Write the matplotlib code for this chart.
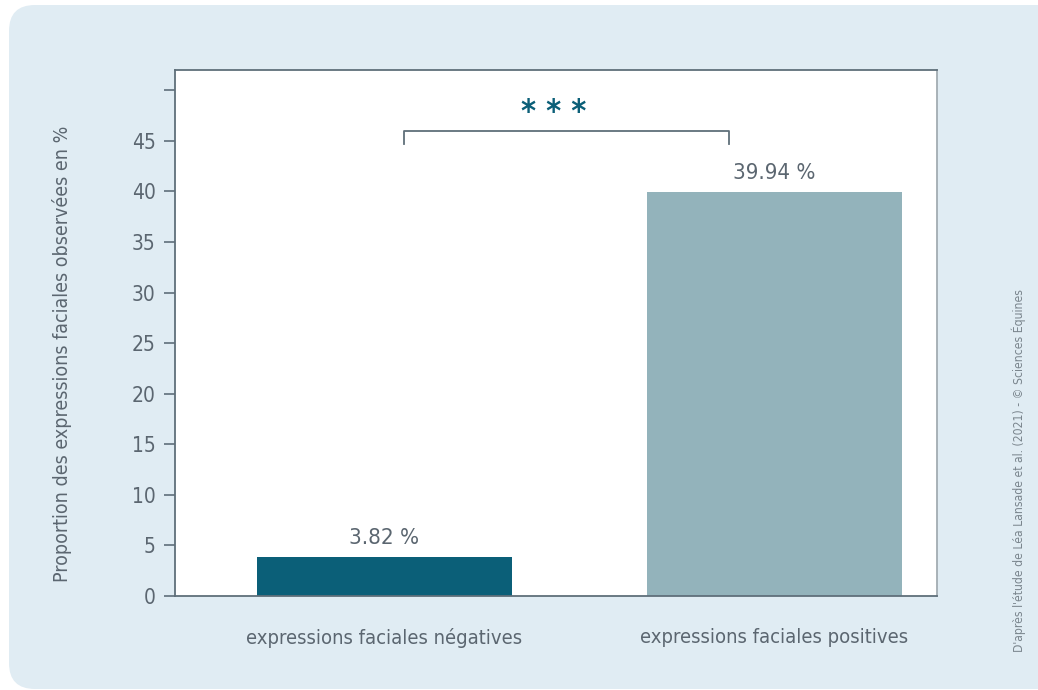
import matplotlib.pyplot as plt
from matplotlib.patches import FancyBboxPatch

categories = ["expressions faciales négatives", "expressions faciales positives"]
values = [3.82, 39.94]
value_labels = ["3.82 %", "39.94 %"]
yticks = [0, 5, 10, 15, 20, 25, 30, 35, 40, 45, 50]
ytick_labels = ["0", "5", "10", "15", "20", "25", "30", "35", "40", "45", ""]

bg = "#e0ecf3"
text_col = "#5b6670"
spine_col = "#5f6f7a"
bar_colors = ["#0b5f78", "#93b3bb"]

plt.rcParams['font.family'] = ['DejaVu Sans']
plt.rcParams['font.stretch'] = 'condensed'

fig = plt.figure(figsize=(10.38, 6.90), dpi=100)
fig.patch.set_facecolor("white")

# rounded light panel behind the chart
panel = FancyBboxPatch((9 / 1038, 1 / 690), 1060 / 1038, 684 / 690,
                       boxstyle="round,pad=0,rounding_size=0.025",
                       transform=fig.transFigure, facecolor=bg,
                       edgecolor="none", zorder=-10, mutation_aspect=1038 / 690)
fig.patches.append(panel)

ax = fig.add_axes([175 / 1038, 1 - 596 / 690, 762 / 1038, 526 / 690])
ax.set_zorder(1)
ax.set_facecolor("white")

x = list(range(len(categories)))
ax.bar(x, values, width=0.654, color=bar_colors, zorder=2)
ax.set_xlim(-0.537, 1.417)
ax.set_ylim(0, 52)

for xi, v, lab in zip(x, values, value_labels):
    ax.text(xi, v + 0.9, lab, ha="center", va="bottom", fontsize=16,
            color=text_col)

ax.set_yticks(yticks)
ax.set_yticklabels(ytick_labels)
ax.tick_params(axis="y", direction="out", length=8, width=1.2,
               color=spine_col, labelcolor=text_col, labelsize=15, pad=6)
ax.set_xticks(x)
ax.set_xticklabels(categories)
ax.tick_params(axis="x", length=0, labelcolor=text_col, labelsize=14.5, pad=23)

for side in ["left", "bottom", "top"]:
    ax.spines[side].set_color(spine_col)
    ax.spines[side].set_linewidth(1.3)
ax.spines["right"].set_color("#a2acb2")
ax.spines["right"].set_linewidth(1.3)

ax.set_ylabel("Proportion des expressions faciales observées en %",
              fontsize=14, color=text_col)
ax.yaxis.set_label_coords(-0.135, 0.46)

# significance bracket
bx0, bx1, by, bdrop = 0.05, 0.883, 46.0, 1.3
ax.plot([bx0, bx0, bx1, bx1], [by - bdrop, by, by, by - bdrop],
        color=spine_col, lw=1.3, zorder=3)
ax.text(0.435, by + 0.3, "* * *", ha="center", va="bottom",
        fontsize=23, color=bar_colors[0], fontweight="bold")

fig.text(1019 / 1038, 1 - 470 / 690,
         "D'après l'étude de Léa Lansade et al. (2021) - © Sciences Équines",
         rotation=90, ha="center", va="center", fontsize=8.7, color="#7a858d")

fig.savefig("out.png", dpi=100)
